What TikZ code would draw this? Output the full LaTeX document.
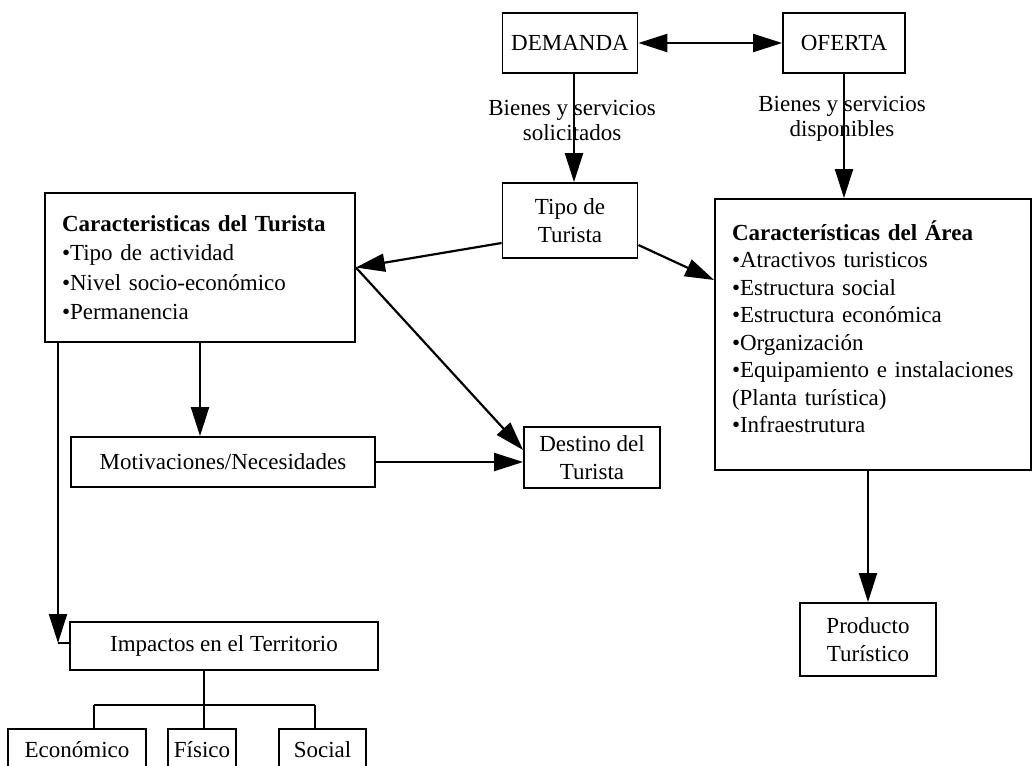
\documentclass[tikz,border=0pt]{standalone}
\usepackage{fontspec}
\setmainfont{Liberation Serif}
\usetikzlibrary{arrows.meta}

\begin{document}
\begin{tikzpicture}[x=1pt,y=-1pt,
  caja/.style={draw=black,line width=1.8pt,align=center,font=\fontsize{23}{27.5}\selectfont},
  lista/.style={caja,align=left,inner xsep=17pt},
  rotulo/.style={align=center,font=\fontsize{23}{25}\selectfont},
  linea/.style={black,line width=2.2pt},
  flecha/.style={linea,-{Triangle[length=29pt,width=18pt]}},
  flechas/.style={linea,{Triangle[length=29pt,width=18pt]}-{Triangle[length=29pt,width=18pt]}}]
\tikzstyle{every node}+=[inner sep=0pt]
\useasboundingbox (0,0) rectangle (1034,766);
\clip (0,0) rectangle (1034,766);
\node [caja,minimum width=135pt,minimum height=60pt] (demanda) at (570,43) {DEMANDA};
\node [caja,minimum width=122pt,minimum height=60pt] (oferta) at (844,43) {OFERTA};
\node [caja,minimum width=135pt,minimum height=75pt] (tipo) at (570,220.5) {Tipo de\\Turista};
\node [lista,text width=276pt,minimum height=149pt] (turista) at (200,267.5)
  {\textbf{Caracteristicas del Turista}\\[2pt] •Tipo de actividad\\[2pt] •Nivel socio-económico\\[2pt] •Permanencia};
\node [lista,text width=282pt,minimum height=271pt] (area) at (873,334.5)
  {\textbf{Características del Área}\\ •Atractivos turisticos\\ •Estructura social\\ •Estructura económica\\ •Organización\\ •Equipamiento e instalaciones\\ (Planta turística)\\ •Infraestrutura\\[-12pt]\mbox{}};
\node [caja,minimum width=304pt,minimum height=50pt] (motiv) at (223,462) {Motivaciones/Necesidades};
\node [caja,minimum width=136pt,minimum height=61pt] (destino) at (592,457.5) {Destino del\\Turista};
\node [caja,minimum width=136pt,minimum height=73pt] (producto) at (868,639.5) {Producto\\Turístico};
\node [caja,minimum width=308pt,minimum height=48pt] (impactos) at (224,646) {Impactos en el Territorio};
\node [caja,minimum width=138pt,minimum height=41pt] (economico) at (77,749.5) {Económico};
\node [caja,minimum width=68pt,minimum height=41pt] (fisico) at (202,749.5) {Físico};
\node [caja,minimum width=87pt,minimum height=41pt] (social) at (322.5,749.5) {Social};
\node [rotulo] (solicitados) at (572,120) {Bienes y servicios\\solicitados};
\node [rotulo] (disponibles) at (842,119) {Bienes y servicios\\disponibles};
\coordinate (codo) at (58,643);
\coordinate (rama) at (204,705);
\coordinate (rama1) at (94,705);
\coordinate (rama3) at (315,705);
\draw [flechas] (demanda) -- (oferta);
\draw [flecha] ([xshift=4pt]demanda.south) -- ([xshift=4pt]tipo.north);
\draw [flecha] (oferta.south) -- (oferta.south |- area.north);
\draw [flecha] ([yshift=-22.5pt]tipo.west) -- (turista.east);
\draw [flecha] ([yshift=-24.5pt]tipo.east) -- ([yshift=54.5pt]area.west);
\draw [flecha] (turista.east) -- ([yshift=7.5pt]destino.west);
\draw [flecha] (motiv.east) -- (destino.west |- motiv.east);
\draw [flecha] (turista.south) -- (turista.south |- motiv.north);
\draw [flecha] (codo |- turista.south) -- (codo);
\draw [linea] (codo) -- (codo -| impactos.west);
\draw [flecha] (area.south -| producto.north) -- (producto.north);
\draw [linea] (rama |- impactos.south) -- (rama);
\draw [linea] (rama1) -- (rama3);
\draw [linea] (rama1) -- (rama1 |- economico.north);
\draw [linea] (rama) -- (rama |- fisico.north);
\draw [linea] (rama3) -- (rama3 |- social.north);
\end{tikzpicture}
\end{document}
